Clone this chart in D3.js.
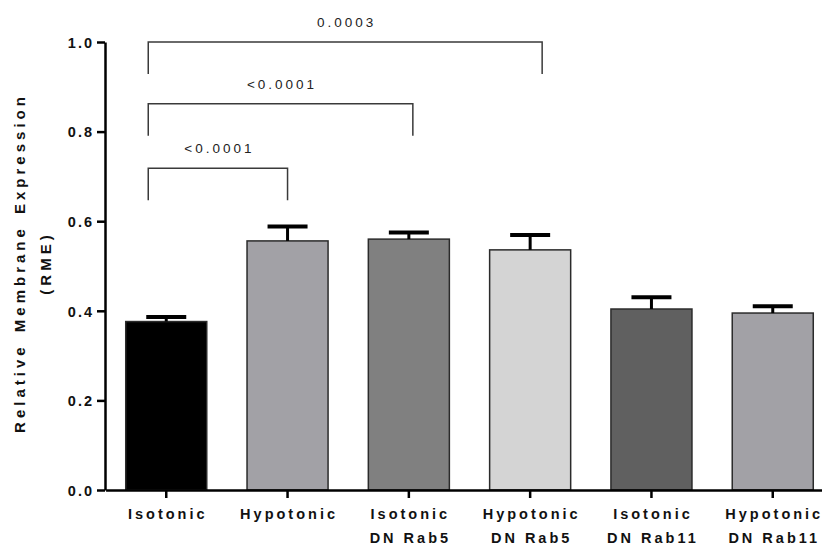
<!DOCTYPE html>
<html>
<head>
<meta charset="utf-8">
<script src="https://cdn.jsdelivr.net/npm/d3@7"></script>
<style>
  body { margin: 0; background: #fff; }
  svg { display: block; font-family: "Liberation Sans", Arial, sans-serif; }
</style>
</head>
<body>
<svg id="rmeChart" width="822" height="545"></svg>
<script>
// data
const categories = [
  ["Isotonic"],
  ["Hypotonic"],
  ["Isotonic", "DN Rab5"],
  ["Hypotonic", "DN Rab5"],
  ["Isotonic", "DN Rab11"],
  ["Hypotonic", "DN Rab11"]
];
const means = [0.376, 0.556, 0.560, 0.536, 0.404, 0.395];
const sems  = [0.010, 0.032, 0.015, 0.033, 0.026, 0.015];
const barColors = ["#000000", "#a2a1a6", "#808080", "#d4d4d4", "#606060", "#a2a1a6"];
const yTicks = [0.0, 0.2, 0.4, 0.6, 0.8, 1.0];

// significance brackets: index of the two groups, bracket level, p label
const bracketFrom   = [0, 0, 0];
const bracketTo     = [1, 2, 3];
const bracketLevels = [0.718, 0.862, 1.0];
const bracketLabels = ["<0.0001", "<0.0001", "0.0003"];

function drawChart(){

  let svg = d3.select("#rmeChart");
  let keys = categories.map((c, i) => "g" + i);

  // x scale (band), y scale (linear)
  let x = d3.scaleBand()
            .domain(keys)
            .range([105.6, 833.4])
            .paddingInner(0.332)
            .paddingOuter(0.166);
  let y = d3.scaleLinear()
            .domain([0, 1])
            .range([490, 42]);

  // bars
  svg.append("g")
     .selectAll("rect")
     .data(means)
     .join("rect")
     .attr("x", (d, i) => x(keys[i]))
     .attr("y", d => y(d))
     .attr("width", x.bandwidth())
     .attr("height", d => y(0) - y(d))
     .attr("fill", (d, i) => barColors[i])
     .attr("stroke", "#2b2b2b")
     .attr("stroke-width", 1.5);

  // error bars (upper only)
  let err = svg.append("g");
  means.forEach((m, i) => {
    let cx = x(keys[i]) + x.bandwidth() / 2;
    err.append("line")
       .attr("x1", cx).attr("x2", cx)
       .attr("y1", y(m)).attr("y2", y(m + sems[i]))
       .attr("stroke", "#000").attr("stroke-width", 3);
    err.append("line")
       .attr("x1", cx - 20).attr("x2", cx + 20)
       .attr("y1", y(m + sems[i])).attr("y2", y(m + sems[i]))
       .attr("stroke", "#000").attr("stroke-width", 4);
  });

  // Y axis
  let yAxis = svg.append("g")
     .attr("transform", "translate(105,0)")
     .call(d3.axisLeft(y).tickValues(yTicks).tickFormat(d3.format(".1f")).tickSize(8).tickSizeOuter(0));
  yAxis.select(".domain").attr("stroke", "#000").attr("stroke-width", 2.5);
  yAxis.selectAll(".tick line").attr("stroke", "#000").attr("stroke-width", 2.5);
  yAxis.selectAll(".tick text")
       .attr("x", -11)
       .attr("dy", "0.36em")
       .attr("fill", "#111")
       .style("font-size", "14.5px")
       .style("font-weight", "bold")
       .style("letter-spacing", "2px")
       .style("font-family", "'Liberation Sans', Arial, sans-serif");

  // X axis
  let xAxis = svg.append("g")
     .attr("transform", "translate(0,490)")
     .call(d3.axisBottom(x).tickSize(8).tickSizeOuter(0).tickFormat(""));
  xAxis.select(".domain").attr("stroke", "#000").attr("stroke-width", 2.5);
  xAxis.selectAll(".tick line").attr("stroke", "#000").attr("stroke-width", 2.5);

  // category labels (two lines)
  let labels = svg.append("g");
  categories.forEach((lines, i) => {
    let cx = x(keys[i]) + x.bandwidth() / 2 + 1.5;
    lines.forEach((t, j) => {
      labels.append("text")
            .attr("x", cx)
            .attr("y", 519 + j * 24)
            .attr("text-anchor", "middle")
            .attr("fill", "#111")
            .style("font-size", "14.5px")
            .style("font-weight", "bold")
            .style("letter-spacing", "3px")
            .text(t);
    });
  });

  // Y axis title
  [["Relative Membrane Expression", 25], ["(RME)", 51]].forEach(([t, tx]) => {
    svg.append("text")
       .attr("transform", "translate(" + tx + ",263) rotate(-90)")
       .attr("text-anchor", "middle")
       .attr("fill", "#111")
       .style("font-size", "15px")
       .style("font-weight", "bold")
       .style("letter-spacing", "4px")
       .style("word-spacing", "3px")
       .text(t);
  });

  // significance brackets
  let leftNudge = -18;
  let rightNudge = [0, 4, 12];   // Prism does not centre the right legs exactly
  let br = svg.append("g");
  bracketLabels.forEach((lab, k) => {
    let x1 = x(keys[bracketFrom[k]]) + x.bandwidth() / 2 + leftNudge;
    let x2 = x(keys[bracketTo[k]]) + x.bandwidth() / 2 + rightNudge[k];
    let yTop = y(bracketLevels[k]);
    let yLeg = yTop + 32;
    br.append("path")
      .attr("d", "M" + x1 + "," + yLeg + "V" + yTop + "H" + x2 + "V" + yLeg)
      .attr("fill", "none")
      .attr("stroke", "#3a3a3a")
      .attr("stroke-width", 1.5);
    br.append("text")
      .attr("x", (x1 + x2) / 2 + 1.5)
      .attr("y", yTop - 15)
      .attr("text-anchor", "middle")
      .attr("fill", "#222")
      .style("font-size", "13.5px")
      .style("letter-spacing", "3px")
      .text(lab);
  });

} // end of drawChart

drawChart();
</script>
</body>
</html>
